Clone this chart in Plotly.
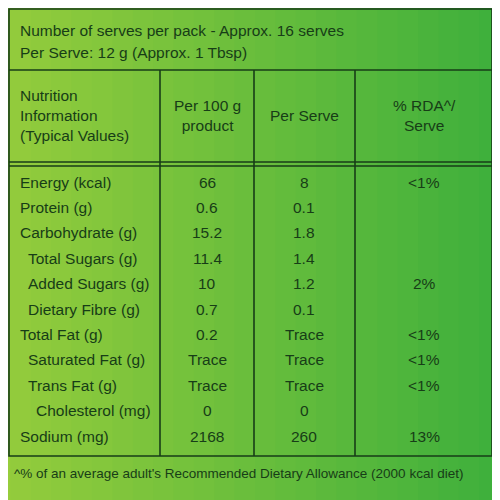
import plotly.graph_objects as go

nutrients = ["Energy (kcal)", "Protein (g)", "Carbohydrate (g)", "Total Sugars (g)", "Added Sugars (g)",
             "Dietary Fibre (g)", "Total Fat (g)", "Saturated Fat (g)", "Trans Fat (g)", "Cholesterol (mg)", "Sodium (mg)"]
indent = [0, 0, 0, 1, 1, 1, 0, 1, 1, 2, 0]
per100 = ["66", "0.6", "15.2", "11.4", "10", "0.7", "0.2", "Trace", "Trace", "0", "2168"]
per_serve = ["8", "0.1", "1.8", "1.4", "1.2", "0.1", "Trace", "Trace", "Trace", "0", "260"]
rda = ["<1%", "", "", "", "2%", "", "<1%", "<1%", "<1%", "", "13%"]
headers = ["Nutrition<br>Information<br>(Typical Values)", "Per 100 g<br>product", "Per Serve", "% RDA^/<br>Serve"]
top_lines = ["Number of serves per pack - Approx. 16 serves", "Per Serve: 12 g (Approx. 1 Tbsp)"]
footnote = "^% of an average adult's Recommended Dietary Allowance (2000 kcal diet)"

ink = "#173d17"
font = dict(family="Liberation Sans, Arial, sans-serif", size=15.5, color=ink)
fig = go.Figure()
shapes = []
n = 26
for i in range(n):
    t = i / (n - 1)
    r = int(150 + (60 - 150) * t); g = int(205 + (175 - 205) * t); b = 60
    shapes.append(dict(type="rect", x0=-10 + i * 530 / n, x1=-10 + (i + 1) * 530 / n + 1, y0=-10, y1=520,
                       fillcolor=f"rgb({r},{g},{b})", line_width=0, layer="below"))
lw = dict(color=ink, width=1.6)
shapes.append(dict(type="rect", x0=9, x1=492, y0=9, y1=456, line=lw))
shapes.append(dict(type="line", x0=9, x1=492, y0=70, y1=70, line=lw))
shapes.append(dict(type="line", x0=9, x1=492, y0=162, y1=162, line=lw))
shapes.append(dict(type="line", x0=9, x1=492, y0=166, y1=166, line=lw))
for x in [160, 254, 355]:
    shapes.append(dict(type="line", x0=x, x1=x, y0=70, y1=456, line=lw))

ann = []
for i, t in enumerate(top_lines):
    ann.append(dict(x=18, y=30 + i * 22, text=t, xanchor="left", showarrow=False, font=font))
ann.append(dict(x=18, y=115, text=headers[0], xanchor="left", align="left", showarrow=False, font=font))
for x, h in zip([207, 304, 424], headers[1:]):
    ann.append(dict(x=x, y=115, text=h, showarrow=False, font=font))
for i, nm in enumerate(nutrients):
    y = 182 + i * 25.4
    ann.append(dict(x=18 + indent[i] * 8, y=y, text=nm, xanchor="left", showarrow=False, font=font))
    ann.append(dict(x=207, y=y, text=per100[i], showarrow=False, font=font))
    ann.append(dict(x=304, y=y, text=per_serve[i], showarrow=False, font=font))
    if rda[i]:
        ann.append(dict(x=424, y=y, text=rda[i], showarrow=False, font=font))
ann.append(dict(x=12, y=473, text=footnote, xanchor="left", showarrow=False, font=dict(font, size=13.5)))

fig.update_layout(width=500, height=500, margin=dict(l=0, r=0, t=0, b=0),
                  shapes=shapes, annotations=ann, showlegend=False,
                  paper_bgcolor="rgb(100,190,60)", plot_bgcolor="rgba(0,0,0,0)",
                  xaxis=dict(range=[8, 508], visible=False, fixedrange=True),
                  yaxis=dict(range=[508, 8], visible=False, fixedrange=True))
fig.write_html("out.html")
